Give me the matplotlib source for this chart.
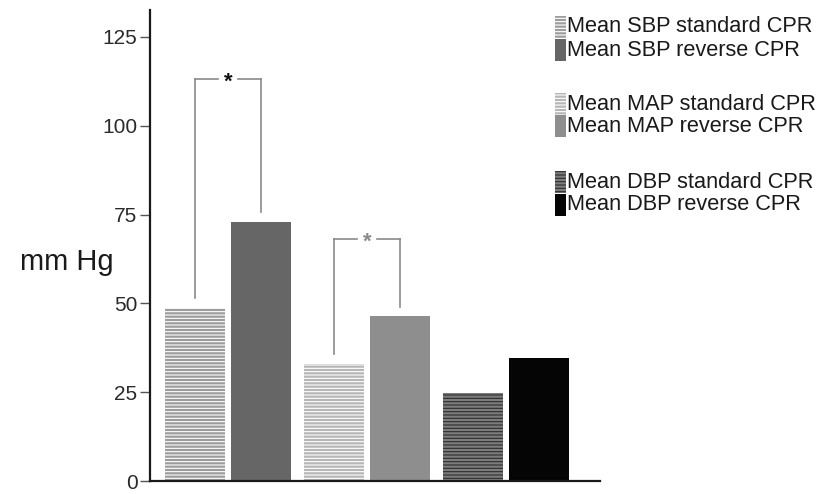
import numpy as np
import matplotlib.pyplot as plt
from matplotlib.patches import Rectangle

plt.rcParams["font.family"] = ["Liberation Sans", "DejaVu Sans"]
plt.rcParams["hatch.linewidth"] = 0.8

# --- data ---
groups = ["SBP", "MAP", "DBP"]
standard = [48.6, 32.9, 24.7]
reverse = [73.0, 46.4, 34.5]
yticks = [0, 25, 50, 75, 100, 125]
labels = ["Mean SBP standard CPR", "Mean SBP reverse CPR",
          "Mean MAP standard CPR", "Mean MAP reverse CPR",
          "Mean DBP standard CPR", "Mean DBP reverse CPR"]
sig_groups = [0, 1]          # brackets with "*"
sig_top = [113.2, 68.1]

# styles: (facecolor, hatch colour)
std_style = [("#9c9c9c", "white"), ("#b6b6b6", "white"), ("#7c7c7c", "#2e2e2e")]
rev_color = ["#666666", "#8e8e8e", "#050505"]

W, H = 828, 494
px = lambda x: x / W
py = lambda y: 1 - y / H

fig = plt.figure(figsize=(W / 100, H / 100), dpi=100)
ax = fig.add_axes([px(150), py(481), px(600) - px(150), py(10) - py(481)])

x = np.arange(len(groups))
bw, off = 0.43, 0.235
for i in x:
    fc, hc = std_style[i]
    ax.bar(i - off, standard[i], bw, color=fc, edgecolor=hc, hatch="-----",
           linewidth=0)
    ax.bar(i + off, reverse[i], bw, color=rev_color[i], linewidth=0)

# significance brackets
for k, g in enumerate(sig_groups):
    c = "#8a8a8a"
    xl, xr = g - off, g + off
    top = sig_top[k]
    ax.plot([xl, xl], [standard[g] + 2.8, top], color=c, lw=1.2)
    ax.plot([xr, xr], [reverse[g] + 2.6, top], color=c, lw=1.2)
    xm = (xl + xr) / 2
    ax.plot([xl, xm - 0.075], [top, top], color=c, lw=1.2)
    ax.plot([xm + 0.075, xr], [top, top], color=c, lw=1.2)
    ax.text(xm, top - 0.8, "*", ha="center", va="center", fontsize=16,
            color="#111111" if k == 0 else "#8a8a8a", fontweight="bold")

ax.set_xlim(-0.561, 2.676)
ax.set_ylim(0, 132.6)
ax.set_xticks([])
ax.set_yticks(yticks)
ax.tick_params(axis="y", length=7, width=1, color="#555555", pad=2,
               labelsize=15, labelcolor="#2a2a2a")
for s in ["top", "right"]:
    ax.spines[s].set_visible(False)
for s in ["left", "bottom"]:
    ax.spines[s].set_linewidth(1.6)
    ax.spines[s].set_color("#1a1a1a")

fig.text(px(20), py(270), "mm Hg", fontsize=21, va="baseline", ha="left",
         color="#1a1a1a")

# legend drawn by hand
rows = [27, 50, 104, 126, 182, 205]
for j, (lab, yc) in enumerate(zip(labels, rows)):
    g = j // 2
    if j % 2 == 0:
        fc, hc = std_style[g]
        r = Rectangle((px(555), py(yc + 11)), px(11), 22 / H, transform=fig.transFigure,
                      facecolor=fc, edgecolor=hc, hatch="-----", linewidth=0)
    else:
        r = Rectangle((px(555), py(yc + 11)), px(11), 22 / H, transform=fig.transFigure,
                      facecolor=rev_color[g], linewidth=0)
    fig.add_artist(r)
    fig.text(px(567), py(yc), lab, fontsize=15.7, va="center", ha="left",
             color="#1a1a1a")

fig.savefig("out.png", dpi=100)
